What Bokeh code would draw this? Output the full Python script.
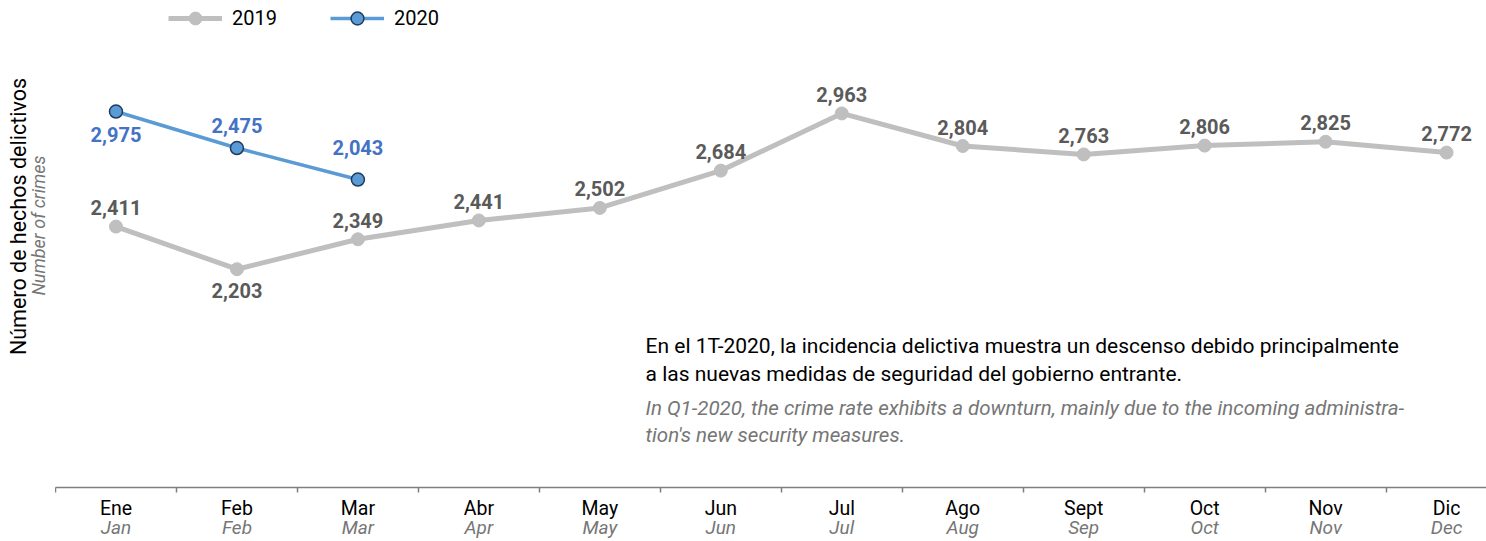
import math
from bokeh.plotting import figure
from bokeh.layouts import row
from bokeh.models import (Range1d, LinearAxis, FixedTicker, Label, ColumnDataSource,
                          Legend, LegendItem)
from bokeh.core.properties import value
from bokeh.embed import file_html
from bokeh.resources import INLINE

# ---------------- data ----------------
months_es = ["Ene", "Feb", "Mar", "Abr", "May", "Jun", "Jul", "Ago", "Sept", "Oct", "Nov", "Dic"]
months_en = ["Jan", "Feb", "Mar", "Apr", "May", "Jun", "Jul", "Aug", "Sep", "Oct", "Nov", "Dec"]
crimes_2019 = [2411, 2203, 2349, 2441, 2502, 2684, 2963, 2804, 2763, 2806, 2825, 2772]
crimes_2020 = [2975, 2475, 2043]
series_names = ["2019", "2020"]
note_es = ["En el 1T-2020, la incidencia delictiva muestra un descenso debido principalmente",
           "a las nuevas medidas de seguridad del gobierno entrante."]
note_en = ["In Q1-2020, the crime rate exhibits a downturn, mainly due to the incoming administra-",
           "tion's new security measures."]
ytitle_es = "Número de hechos delictivos"
ytitle_en = "Number of crimes"

# label placement (pixels, + = down)
dy_2019 = [-19 if i != 1 else 21 for i in range(len(crimes_2019))]
dy_2020 = [23, -23, -32]

FONT = "Roboto"
GRAY = "#BFBFBF"
BLUE = "#5B9BD5"
BLUE_TXT = "#4472C4"
LBL_GRAY = "#5A5A5A"
EN_GRAY = "#767676"

x19 = list(range(len(crimes_2019)))
x20 = list(range(len(crimes_2020)))

# ---------------- left strip with the y-axis titles ----------------
left = figure(width=55, height=541, output_backend="svg", toolbar_location=None,
              x_range=Range1d(0, 55), y_range=Range1d(541, 0),
              x_axis_location=None, y_axis_location=None,
              min_border_left=0, min_border_right=0, min_border_top=0, min_border_bottom=0)
left.outline_line_color = None
left.xgrid.visible = False
left.ygrid.visible = False
left.text(x=[18], y=[240], text=[ytitle_es], angle=math.pi / 2, text_align="center",
          text_baseline="middle", text_font=value(FONT), text_font_size="21.5px",
          text_color="black")
left.text(x=[38], y=[250], text=[ytitle_en], angle=math.pi / 2, text_align="center",
          text_baseline="middle", text_font=value(FONT), text_font_size="18px",
          text_font_style="italic", text_color=EN_GRAY)

# ---------------- main chart ----------------
p = figure(frame_width=1431, frame_height=487, output_backend="svg", toolbar_location=None,
           x_range=Range1d(-0.5, 11.33), y_range=Range1d(1138, 3514),
           x_axis_location=None, y_axis_location=None,
           min_border_left=0, min_border_right=0, min_border_top=0, min_border_bottom=0)
p.extra_y_ranges = {"y2020": Range1d(-2178, 4497)}
p.outline_line_color = None
p.xgrid.visible = False
p.ygrid.visible = False

ticker = FixedTicker(ticks=x19, minor_ticks=[i - 0.5 for i in range(len(x19) + 1)])

ax1 = LinearAxis(ticker=ticker,
                 major_label_overrides={i: m for i, m in enumerate(months_es)})
ax1.axis_line_color = "#7F7F7F"
ax1.axis_line_width = 1.5
ax1.major_tick_out = 0
ax1.major_tick_in = 0
ax1.minor_tick_out = 5
ax1.minor_tick_in = 0
ax1.minor_tick_line_color = "#7F7F7F"
ax1.minor_tick_line_width = 1.5
ax1.major_label_text_font = FONT
ax1.major_label_text_font_size = "19.5px"
ax1.major_label_text_color = "black"
ax1.major_label_standoff = 4
p.add_layout(ax1, "below")

ax2 = LinearAxis(ticker=ticker,
                 major_label_overrides={i: m for i, m in enumerate(months_en)})
ax2.axis_line_color = None
ax2.major_tick_line_color = None
ax2.minor_tick_line_color = None
ax2.major_tick_out = 0
ax2.major_tick_in = 0
ax2.minor_tick_out = 0
ax2.minor_tick_in = 0
ax2.major_label_text_font = FONT
ax2.major_label_text_font_size = "19px"
ax2.major_label_text_font_style = "italic"
ax2.major_label_text_color = EN_GRAY
ax2.major_label_standoff = -7
p.add_layout(ax2, "below")

# ---- 2019 series
s19 = ColumnDataSource(dict(x=x19, y=crimes_2019, lbl=[f"{v:,}" for v in crimes_2019], dy=dy_2019))
l19 = p.line("x", "y", source=s19, line_color=GRAY, line_width=5)
c19 = p.scatter("x", "y", source=s19, size=13, fill_color=GRAY, line_color=GRAY)
p.text("x", "y", text="lbl", source=s19, y_offset="dy", text_align="center",
       text_baseline="middle", text_font=value(FONT), text_font_style="bold",
       text_font_size="20px", text_color=LBL_GRAY)

# ---- 2020 series
s20 = ColumnDataSource(dict(x=x20, y=crimes_2020, lbl=[f"{v:,}" for v in crimes_2020], dy=dy_2020))
l20 = p.line("x", "y", source=s20, line_color=BLUE, line_width=3.5, y_range_name="y2020")
c20 = p.scatter("x", "y", source=s20, size=13, fill_color=BLUE, line_color="#1F3B5C",
                line_width=1.5, y_range_name="y2020")
p.text("x", "y", text="lbl", source=s20, y_offset="dy", text_align="center",
       text_baseline="middle", text_font=value(FONT), text_font_style="bold",
       text_font_size="20px", text_color=BLUE_TXT, y_range_name="y2020")

legend = Legend(items=[LegendItem(label=series_names[0], renderers=[l19, c19]),
                       LegendItem(label=series_names[1], renderers=[l20, c20])],
                location=(113, 453), orientation="horizontal")
legend.glyph_width = 54
legend.glyph_height = 32
legend.label_height = 32
legend.label_standoff = 10
legend.spacing = 53
legend.padding = 0
legend.margin = 0
legend.border_line_color = None
legend.background_fill_alpha = 0
legend.label_text_font = FONT
legend.label_text_font_size = "20px"
legend.label_text_color = "black"
p.add_layout(legend)

# ---- annotation note
for i, t in enumerate(note_es):
    p.add_layout(Label(x=590, y=142 - 28 * i, x_units="screen", y_units="screen", text=t,
                       text_align="left", text_baseline="middle", text_font=FONT,
                       text_font_size="21px", text_color="black"))
for i, t in enumerate(note_en):
    p.add_layout(Label(x=590, y=80 - 27 * i, x_units="screen", y_units="screen", text=t,
                       text_align="left", text_baseline="middle", text_font=FONT,
                       text_font_size="20.5px", text_font_style="italic", text_color=EN_GRAY))

layout = row(left, p, spacing=0)
open("out.html", "w").write(file_html(layout, INLINE))
